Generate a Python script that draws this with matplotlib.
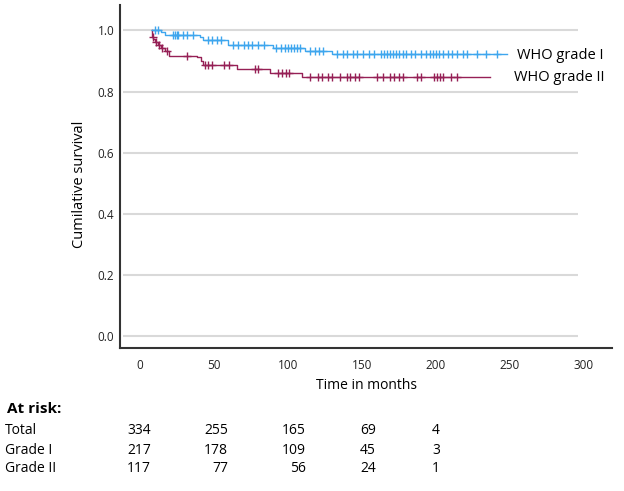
import numpy as np
import matplotlib.pyplot as plt

plt.rcParams['font.family'] = ['Open Sans', 'DejaVu Sans']

# Kaplan-Meier steps (months, survival)
grade1_t = [7.9, 14.0, 16.9, 40.5, 42.6, 59.5, 89.9, 111.5, 129.7, 248.0]
grade1_s = [1.0, 0.995, 0.985, 0.978, 0.970, 0.953, 0.942, 0.933, 0.922, 0.922]
grade2_t = [7.9, 8.4, 9.1, 10.1, 12.2, 14.2, 16.9, 19.6, 38.5, 41.0, 42.6,
            65.5, 87.8, 109.5, 236.5]
grade2_s = [1.0, 0.977, 0.971, 0.961, 0.953, 0.942, 0.933, 0.917, 0.912, 0.901,
            0.887, 0.873, 0.859, 0.848, 0.848]

# censored observations (months)
grade1_cens = [10, 12, 22, 24, 25, 26, 29, 32, 36, 46, 49, 52, 55, 63, 66, 70, 73,
               76, 80, 84, 92, 95, 98, 100, 102, 104, 106, 108, 115, 118, 121, 124,
               133, 137, 140, 144, 147, 151, 155, 158, 163, 165, 167, 169, 171, 173,
               175, 178, 180, 183, 186, 190, 193, 196, 198, 200, 202, 205, 208, 211,
               214, 218, 221, 228, 234, 241]
grade2_cens = [9, 11, 13, 15, 18, 32, 44, 46, 49, 57, 60, 78, 80, 93, 96, 99, 101,
               115, 120, 123, 127, 130, 135, 140, 142, 145, 148, 160, 164, 169, 172,
               175, 178, 187, 190, 199, 201, 203, 205, 210, 214]

yticks = [0.0, 0.2, 0.4, 0.6, 0.8, 1.0]
xticks = [0, 50, 100, 150, 200, 250, 300]

risk_rows = ['Total', 'Grade I', 'Grade II']
risk_vals = [[334, 255, 165, 69, 4],
             [217, 178, 109, 45, 3],
             [117, 77, 56, 24, 1]]

blue = '#3EA6EE'
red = '#962056'


def km_value(ts, ss, t):
    i = np.searchsorted(ts, t, side='right') - 1
    return ss[max(i, 0)]


fig = plt.figure(figsize=(6.24, 4.91), dpi=100)
ax = fig.add_axes([120/624, 1-348/491, 492/624, 343/491])

ax.hlines(yticks, -11.5, 296, color='#d9d9d9', lw=1.5, zorder=0)

ax.step(grade1_t, grade1_s, where='post', color=blue, lw=1)
ax.step(grade2_t, grade2_s, where='post', color=red, lw=1)
ax.plot(grade1_cens, [km_value(grade1_t, grade1_s, t) for t in grade1_cens],
        '+', color=blue, ms=6, mew=1)
ax.plot(grade2_cens, [km_value(grade2_t, grade2_s, t) for t in grade2_cens],
        '+', color=red, ms=6, mew=1)

ax.text(255, 0.919, 'WHO grade I', fontsize=10.5, va='center', ha='left')
ax.text(253, 0.847, 'WHO grade II', fontsize=10.5, va='center', ha='left')

ax.set_xlim(-13.5, 319)
ax.set_ylim(-0.039, 1.083)
ax.set_xticks(xticks)
ax.set_yticks(yticks)
ax.set_yticklabels([f'{v:.1f}' for v in yticks])
ax.tick_params(length=0, labelsize=8.5, colors='#222222')
ax.tick_params(axis='x', pad=8)
ax.tick_params(axis='y', pad=4)
for s in ['top', 'right']:
    ax.spines[s].set_visible(False)
for s in ['left', 'bottom']:
    ax.spines[s].set_color('#333333')
    ax.spines[s].set_linewidth(1.5)

ax.set_xlabel('Time in months', fontsize=10)
ax.set_ylabel('Cumilative survival', fontsize=10.5)
ax.yaxis.set_label_coords(-0.067, 0.478)

# at-risk table
fig.text(7/624, 1-409/491, 'At risk:', fontsize=11, fontweight='bold', va='center')
col_right = [151, 228, 306, 376, 440]
for r, (name, vals) in enumerate(zip(risk_rows, risk_vals)):
    y = 1 - (431 + 19*r)/491
    fig.text(5/624, y, name, fontsize=10, va='center')
    for x, v in zip(col_right, vals):
        fig.text(x/624, y, str(v), fontsize=10, va='center', ha='right')

fig.savefig('out.png', dpi=100)
